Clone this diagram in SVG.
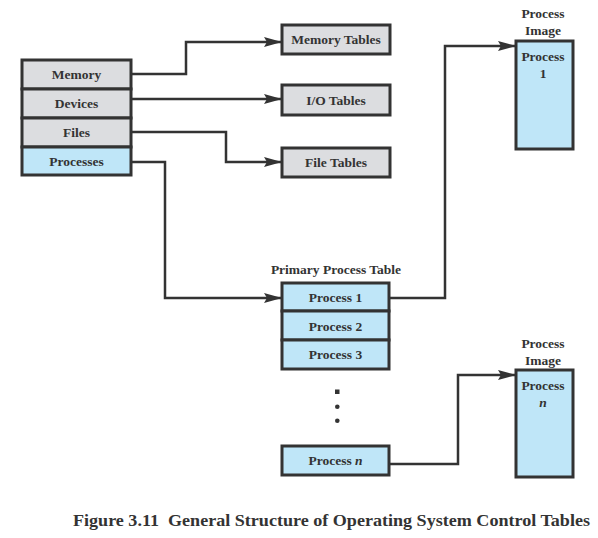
<svg xmlns="http://www.w3.org/2000/svg" width="598" height="538" viewBox="0 0 598 538">
<style>
.g{fill:#dcdde0;stroke:#333;stroke-width:3}
.b{fill:#bfe6f8;stroke:#333;stroke-width:3}
text{font-family:'Liberation Serif','Times New Roman','DejaVu Serif',serif;font-weight:bold;font-size:13.5px;fill:#333;text-anchor:middle}
.c{fill:none;stroke:#333;stroke-width:2.5}
</style>
<defs>
<marker id="ah" markerWidth="18" markerHeight="10" refX="18" refY="5" orient="auto" markerUnits="userSpaceOnUse">
<path d="M0,0 L18,5 L0,10 L3,5 Z" fill="#333"/>
</marker>
</defs>
<rect width="598" height="538" fill="#fff"/>
<g id="memory"><rect class="g" x="22" y="60" width="109" height="29"/><text x="76.5" y="79">Memory</text></g>
<g id="devices"><rect class="g" x="22" y="89" width="109" height="29"/><text x="76.5" y="108">Devices</text></g>
<g id="files"><rect class="g" x="22" y="118" width="109" height="29"/><text x="76.5" y="137">Files</text></g>
<g id="processes"><rect class="b" x="22" y="147" width="109" height="28"/><text x="76.5" y="166">Processes</text></g>
<g id="memory-tables"><rect class="g" x="282" y="25" width="108" height="29"/><text x="336" y="44">Memory Tables</text></g>
<g id="io-tables"><rect class="g" x="282" y="85" width="108" height="30"/><text x="336" y="105">I/O Tables</text></g>
<g id="file-tables"><rect class="g" x="282" y="148" width="108" height="29"/><text x="336" y="167">File Tables</text></g>
<g id="primary-process-table"><text x="336" y="274">Primary Process Table</text></g>
<g id="process-1"><rect class="b" x="282" y="283" width="107" height="28"/><text x="335.5" y="302">Process 1</text></g>
<g id="process-2"><rect class="b" x="282" y="311" width="107" height="29"/><text x="335.5" y="331">Process 2</text></g>
<g id="process-3"><rect class="b" x="282" y="340" width="107" height="29"/><text x="335.5" y="359">Process 3</text></g>
<g id="ellipsis"><rect x="335" y="389.5" width="4.5" height="4.5" fill="#333"/><circle cx="337.3" cy="406.7" r="2.3" fill="#333"/><circle cx="337.3" cy="420.7" r="2.3" fill="#333"/></g>
<g id="process-n"><rect class="b" x="282" y="446" width="107" height="29"/><text x="335.5" y="465">Process <tspan font-style="italic">n</tspan></text></g>
<g id="process-image-1"><text x="543" y="18">Process</text><text x="543" y="35">Image</text><rect class="b" x="516" y="41" width="57" height="108"/><text x="543" y="61">Process</text><text x="543" y="78">1</text></g>
<g id="process-image-n"><text x="543" y="348">Process</text><text x="543" y="365">Image</text><rect class="b" x="516" y="370" width="57" height="107"/><text x="543" y="390">Process</text><text x="543" y="407" font-style="italic" font-weight="normal">n</text></g>
<g id="connectors">
<polyline class="c" points="131,74 186,74 186,42 282,42" marker-end="url(#ah)"/>
<polyline class="c" points="131,99 282,99" marker-end="url(#ah)"/>
<polyline class="c" points="131,132 226,132 226,162 282,162" marker-end="url(#ah)"/>
<polyline class="c" points="131,162 165,162 165,298 282,298" marker-end="url(#ah)"/>
<polyline class="c" points="389,298 445,298 445,46 516,46" marker-end="url(#ah)"/>
<polyline class="c" points="389,464 458,464 458,375 516,375" marker-end="url(#ah)"/>
</g>
<text x="331.5" y="526" style="font-size:17px" textLength="517" lengthAdjust="spacingAndGlyphs" xml:space="preserve">Figure 3.11  General Structure of Operating System Control Tables</text>
</svg>
